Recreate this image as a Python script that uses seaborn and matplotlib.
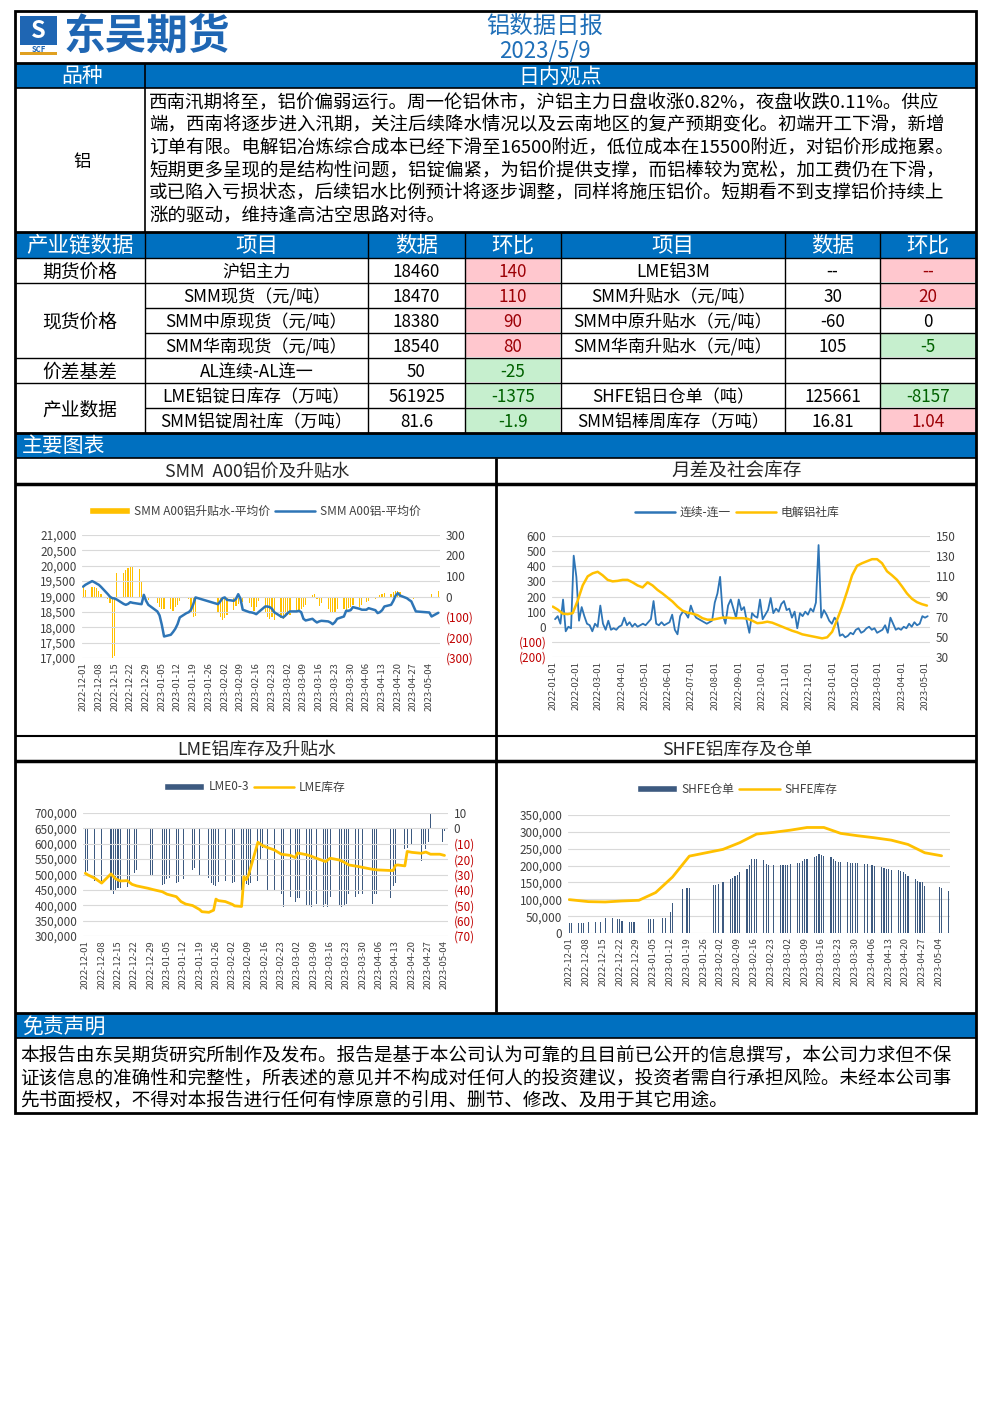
import numpy as np
import pandas as pd
import matplotlib
matplotlib.use('Agg')
import matplotlib.pyplot as plt
from matplotlib.patches import Rectangle, Patch
from matplotlib.lines import Line2D
import seaborn as sns

sns.set_theme(style='white')
plt.rcParams['font.family'] = ['Noto Sans CJK SC', 'DejaVu Sans']
plt.rcParams['axes.unicode_minus'] = False

# ---------------- text data ----------------
report_title = '铝数据日报'
report_date = '2023/5/9'
view_lines = [
    '西南汛期将至，铝价偏弱运行。周一伦铝休市，沪铝主力日盘收涨0.82%，夜盘收跌0.11%。供应',
    '端，西南将逐步进入汛期，关注后续降水情况以及云南地区的复产预期变化。初端开工下滑，新增',
    '订单有限。电解铝冶炼综合成本已经下滑至16500附近，低位成本在15500附近，对铝价形成拖累。',
    '短期更多呈现的是结构性问题，铝锭偏紧，为铝价提供支撑，而铝棒较为宽松，加工费仍在下滑，',
    '或已陷入亏损状态，后续铝水比例预计将逐步调整，同样将施压铝价。短期看不到支撑铝价持续上',
    '涨的驱动，维持逢高沽空思路对待。',
]
disclaimer_lines = [
    '本报告由东吴期货研究所制作及发布。报告是基于本公司认为可靠的且目前已公开的信息撰写，本公司力求但不保',
    '证该信息的准确性和完整性，所表述的意见并不构成对任何人的投资建议，投资者需自行承担风险。未经本公司事',
    '先书面授权，不得对本报告进行任何有悖原意的引用、删节、修改、及用于其它用途。',
]

table_header = ['产业链数据', '项目', '数据', '环比', '项目', '数据', '环比']
groups = [('期货价格', 0, 1), ('现货价格', 1, 4), ('价差基差', 4, 5), ('产业数据', 5, 7)]
left_items = ['沪铝主力', 'SMM现货（元/吨）', 'SMM中原现货（元/吨）', 'SMM华南现货（元/吨）',
              'AL连续-AL连一', 'LME铝锭日库存（万吨）', 'SMM铝锭周社库（万吨）']
left_values = ['18460', '18470', '18380', '18540', '50', '561925', '81.6']
left_change = ['140', '110', '90', '80', '-25', '-1375', '-1.9']
right_items = ['LME铝3M', 'SMM升贴水（元/吨）', 'SMM中原升贴水（元/吨）', 'SMM华南升贴水（元/吨）',
               '', 'SHFE铝日仓单（吨）', 'SMM铝棒周库存（万吨）']
right_values = ['--', '30', '-60', '105', '', '125661', '16.81']
right_change = ['--', '20', '0', '-5', '', '-8157', '1.04']

chart_titles = ['SMM  A00铝价及升贴水', '月差及社会库存', 'LME铝库存及升贴水', 'SHFE铝库存及仓单']

# ---------------- chart data ----------------
cn_holidays = ['2023-01-02', '2023-01-23', '2023-01-24', '2023-01-25', '2023-01-26', '2023-01-27',
               '2023-04-05', '2023-05-01', '2023-05-02', '2023-05-03']
cn_days = pd.bdate_range('2022-12-01', '2023-05-08')
cn_days = cn_days[~cn_days.isin(pd.to_datetime(cn_holidays))]

# SMM A00 average price (yuan/t), one per trading day
smm_price = [
    19320, 19380, 19500, 19465, 19420, 19380, 19310, 19075, 18990, 18945, 18935, 18900, 18760, 18730,
    18760, 18815, 18795, 18760, 18750, 19055, 18860, 18730,  # Dec
    18515, 18385, 18080, 17700, 17755, 17845, 17950, 18100, 18320, 18460, 18490, 18570, 18750, 18970,
    18750, 18840,  # Jan
    18945, 18970, 18890, 18860, 18925, 19075, 18925, 18570, 18490, 18480, 18460, 18425, 18490, 18675,
    18675, 18655, 18600, 18490, 18350, 18320,  # Feb
    18385, 18460, 18515, 18515, 18535, 18490, 18275, 18220, 18275, 18210, 18155, 18190, 18210, 18190,
    18155, 18100, 18165, 18275, 18350, 18535, 18535, 18555, 18655,  # Mar
    18600, 18570, 18570, 18620, 18555, 18460, 18490, 18555, 18675, 18730, 18860, 19030, 19110, 19030,
    18945, 18890, 18840, 18675, 18515,  # Apr
    18480, 18350, 18470,  # May
]
# SMM A00 premium/discount
smm_premium = [
    55, 30, 45, 45, 40, 25, 10, -10, -30, -300, -290, 115, 115, 130, 140, 150, 150, 135, 75, np.nan,
    -5, -15,
    -30, -50, -60, -60, -60, -70, -50, -40, -20, np.nan, -10, -80, -100, -95, -80, -100,
    -115, -105, -90, -65, -45, -35, -30, -25, -30, -50, -70, -50, -20, -80, -100, -110, -100, -115,
    -105, -110,
    -100, -90, -90, -80, -70, -60, -50, -40, 5, 12, -10, -45, -30, -60, -75, -80, -75, -60, -60, -65,
    -55, -50, -40,
    -50, -40, -25, -20, -10, -5, 5, 10, 15, 10, 20, 25, 25, 20, -5, -5, 0, -10, -5,
    -5, 10, 25,
]

# continuous minus first-month spread, 2022-01 .. 2023-05
spread = [50, 70, 20, 180, -30, 0, -10, 470, 330, 40, 130, 70, 20, 10, -30, 20, 0, 140, 20, -20,
          40, -20, -10, -20, 0, 10, 60, 10, 30, 0, 20, 0, 10, 20, 10, 30, 50, 170, 20, 10,
          30, 10, 20, 30, 80, -20, -50, 70, 100, 90, 60, 140, 90, 60, 50, 40, 30, 20, 30, 40,
          160, 220, 330, 80, 20, 140, 180, 120, 60, 180, 110, 130, 40, -40, 90, 70, 60, 180, 50, 80,
          110, 190, 90, 120, 100, 150, 170, 110, 120, 60, 100, -10, 90, 70, 100, 80, 120, 100, 160, 540,
          60, 110, 80, 40, 20, 60, 40, -60, -50, -70, -60, -40, -50, -20, -10, -40, -30, -10, 0, -20,
          -10, -40, -30, -20, 10, -40, 60, 20, -20, -10, -20, 0, -10, 20, 0, 30, 10, 20, 70, 60, 70]
spread_start, spread_end = '2022-01-04', '2023-05-05'
# electrolytic aluminium social inventory (10k t)
social_stock = [80, 77, 73, 72.5, 73.5, 86, 101, 110, 113, 114.5, 111, 106.5, 105, 105.5, 106.5, 106.5,
                104, 101, 99, 104, 101, 96.5, 93, 89, 85, 80, 76, 74, 73, 71.5, 68.5, 67, 67, 68, 69,
                69, 68.5, 68.5, 68.5, 68, 66, 63.5, 64, 65, 64, 62, 60, 58, 56, 54.5, 52.5, 51.5, 50.5,
                49.5, 48.5, 49.5, 55, 67, 80, 95, 111, 120.5, 123, 125, 127, 127, 123, 115, 111, 106.5,
                100, 93, 87.7, 84.4, 82.4, 81]
stock_start, stock_end = '2022-01-01', '2023-05-04'

# LME stock (t)
lme_stock_dates = ['2022-12-01', '2022-12-02', '2022-12-05', '2022-12-08', '2022-12-12', '2022-12-14',
                   '2022-12-16', '2022-12-19', '2022-12-21', '2022-12-23', '2022-12-28', '2022-12-30',
                   '2023-01-03', '2023-01-05', '2023-01-09', '2023-01-11', '2023-01-13', '2023-01-16',
                   '2023-01-19', '2023-01-20', '2023-01-23', '2023-01-25', '2023-01-26', '2023-01-27',
                   '2023-01-30', '2023-02-02', '2023-02-03', '2023-02-06', '2023-02-07', '2023-02-08',
                   '2023-02-09', '2023-02-13', '2023-02-15', '2023-02-17', '2023-02-20', '2023-02-23',
                   '2023-02-27', '2023-03-01', '2023-03-02', '2023-03-06', '2023-03-08', '2023-03-10',
                   '2023-03-14', '2023-03-16', '2023-03-20', '2023-03-22', '2023-03-24', '2023-03-28',
                   '2023-03-30', '2023-04-03', '2023-04-05', '2023-04-11', '2023-04-12', '2023-04-13',
                   '2023-04-14', '2023-04-17', '2023-04-18', '2023-04-20', '2023-04-24', '2023-04-26',
                   '2023-04-28', '2023-05-02', '2023-05-04']
lme_stock = [504000, 499000, 488000, 472000, 502000, 486000, 479000, 480000, 468000, 463000,
             455000, 451000, 444000, 436000, 428000, 412000, 404000, 399000, 386000, 379000,
             377000, 384000, 420000, 415000, 412000, 403000, 398000, 396000, 493000, 483000,
             499000, 605000, 594000, 588000, 580000, 566000, 562000, 555000, 570000, 564000,
             559000, 553000, 542000, 553000, 547000, 540000, 531000, 526000, 523000, 517000,
             515000, 513000, 513000, 530000, 531000, 528000, 575000, 572000, 569000, 573000,
             566000, 566000, 562000]
# LME 0-3 spread
lme_spread_dates = ['2022-12-01', '2022-12-02', '2022-12-05', '2022-12-08', '2022-12-12', '2022-12-13',
                    '2022-12-14', '2022-12-15', '2022-12-16', '2022-12-19', '2022-12-20', '2022-12-22',
                    '2022-12-23', '2022-12-29', '2022-12-30', '2023-01-03', '2023-01-04', '2023-01-05',
                    '2023-01-06', '2023-01-09', '2023-01-10', '2023-01-12', '2023-01-16', '2023-01-17',
                    '2023-01-19', '2023-01-23', '2023-01-24', '2023-01-25', '2023-01-26', '2023-01-27',
                    '2023-01-30', '2023-02-02', '2023-02-03', '2023-02-06', '2023-02-07', '2023-02-08',
                    '2023-02-09', '2023-02-10', '2023-02-13', '2023-02-14', '2023-02-15', '2023-02-17',
                    '2023-02-20', '2023-02-23', '2023-02-24', '2023-02-27', '2023-03-01', '2023-03-02',
                    '2023-03-03', '2023-03-06', '2023-03-07', '2023-03-08', '2023-03-10', '2023-03-13',
                    '2023-03-14', '2023-03-15', '2023-03-16', '2023-03-20', '2023-03-21', '2023-03-22',
                    '2023-03-23', '2023-03-24', '2023-03-27', '2023-03-28', '2023-03-30', '2023-04-03',
                    '2023-04-04', '2023-04-05', '2023-04-11', '2023-04-12', '2023-04-13', '2023-04-17',
                    '2023-04-18', '2023-04-20', '2023-04-24', '2023-04-25', '2023-04-26', '2023-04-27',
                    '2023-04-28', '2023-05-02', '2023-05-03', '2023-05-04']
lme_spread = [-29, -28, -34, -34.5, -41, -42.7, -40, -39, -39, -38, -34.4, -29, -27, -31, -30, -36.7,
              -36, -33, -32, -35.5, -35, -33, -27, -25.5, -30, -32, -35.5, -37, -37.8, -35, -34.4,
              -35.5, -35, -40, -38, -36, -37, -35.5, -34.4, -20, -13, -41, -40, -43, -51, -44.4, -47.8,
              -45, -45.5, -50, -50, -51, -49, -51, -49, -51, -44.4, -50, -51, -50.5, -49, -43, -44.4,
              -43, -43, -49, -43, -43, -45.5, -37.8, -35.5, -13.3, -13, -11, -21, -10, -13.3, -9, 10,
              0.4, -9, -2]

# SHFE warrants (t), one per trading day
shfe_warrants = [
    30000, 30000, 30000, 30000, 30000, np.nan, 32000, 32000, np.nan, 32000, np.nan, 44600, 44600,
    np.nan, 41600, 41000, 35000, 33000, 33000, 33000, np.nan, np.nan,
    40600, 40600, 40600, np.nan, 44600, 45500, np.nan, 62500, 89000, np.nan, 130000, np.nan, 133000,
    133000, 142000, 143000,
    145000, np.nan, 151700, 159600, 164600, 168500, 172500, 179500, 189400, 203000, 219000, 219000,
    219000, 216000, 204500, 203000, np.nan, 203000, 201000, 201000,
    201000, 203000, 205000, 208000, 208000, 214000, 219000, 219000, 224000, 229000, 235000, 230000,
    228000, 226000, 220000, 214000, 212000, 210000, 211000, 209000, 209000, 208000, 208000,
    205000, 205000, 201000, 199000, 196000, 193000, 190000, 190000, 188000, 186000, 184000, 181000,
    176000, 170000, 159600, 155700, 152700, 150700, 138800,
    135800, 133000, 125000,
]
# SHFE weekly stock (t)
shfe_stock_dates = ['2022-12-01', '2022-12-09', '2022-12-16', '2022-12-23', '2022-12-30', '2023-01-06',
                    '2023-01-13', '2023-01-20', '2023-02-03', '2023-02-10', '2023-02-17', '2023-02-24',
                    '2023-03-03', '2023-03-10', '2023-03-17', '2023-03-24', '2023-03-31', '2023-04-07',
                    '2023-04-14', '2023-04-21', '2023-04-28', '2023-05-05']
shfe_stock = [99000, 93000, 92000, 95000, 97000, 120000, 166000, 228000, 248000, 268000, 293500,
              298500, 305000, 313000, 313000, 295500, 288500, 282500, 275500, 262700, 238000, 229000]

# ---------------- page ----------------
W, H = 992, 1403
BLUE = '#0070c0'
YELLOW = '#ffc000'
LINE_BLUE = '#2e75b6'
NAVY = '#3d5a80'
GRID = '#d9d9d9'
TICK = '#404040'
NEG = '#c00000'
PINK, PINK_T = '#ffc7ce', '#9c0006'
GREEN, GREEN_T = '#c6efce', '#006100'

fig = plt.figure(figsize=(W / 100, H / 100), dpi=100)
page = fig.add_axes([0, 0, 1, 1])
page.set_xlim(0, W)
page.set_ylim(H, 0)
page.axis('off')


def frac(x0, y0, x1, y1):
    return [x0 / W, 1 - y1 / H, (x1 - x0) / W, (y1 - y0) / H]


def fill(x0, y0, x1, y1, color, z=1):
    page.add_patch(Rectangle((x0, y0), x1 - x0, y1 - y0, facecolor=color, edgecolor='none', zorder=z))


def hline(y, x0=15, x1=976, lw=1.0):
    page.plot([x0, x1], [y, y], color='black', lw=lw, solid_capstyle='butt', zorder=3)


def vline(x, y0, y1, lw=1.0):
    page.plot([x, x], [y0, y1], color='black', lw=lw, solid_capstyle='butt', zorder=3)


def put(x, y, s, size, color='black', ha='center', **kw):
    # CJK glyphs sit a little high with va='center'; nudge down
    page.text(x, y + 1.5, s, fontsize=size, color=color, ha=ha, va='center', zorder=4, **kw)


# header with logo
fill(20, 16, 57, 45, '#1f66b3')
put(38.5, 29, 'S', 17, 'white', weight='bold', style='italic')
put(38.5, 47.5, 'SCF', 5.5, '#1f66b3', weight='bold')
fill(20, 52, 57, 55, '#e0a020')
put(147, 35, '东吴期货', 30, '#1f66b3', weight='bold')
put(545, 25, report_title, 16.8, '#1f6fb8')
put(545, 50, report_date, 16, '#1f6fb8')

# daily view
fill(15, 63, 976, 88, BLUE)
put(82, 75, '品种', 15, 'white')
put(560, 75, '日内观点', 15, 'white')
put(82, 160, '铝', 12.5)
for i, line in enumerate(view_lines):
    put(149, 101 + i * 22.8, line, 13.3, ha='left')

# data table
cols = [15, 145, 368, 465, 561, 785, 880, 976]
rows = [258, 283, 308, 333, 358, 383, 408, 433]
centers = [(a + b) / 2 for a, b in zip(cols[:-1], cols[1:])]
fill(15, 232, 976, 258, BLUE)
for cx, lab in zip(centers, table_header):
    put(cx, 244, lab, 15.5, 'white')


def change_style(s):
    if s == '':
        return None, 'black'
    if s == '--':
        return PINK, PINK_T
    v = float(s)
    if v > 0:
        return PINK, PINK_T
    if v < 0:
        return GREEN, GREEN_T
    return None, 'black'


for r in range(7):
    y0, y1 = rows[r], rows[r + 1]
    yc = (y0 + y1) / 2
    for ci, items in ((0, (left_items, left_values, left_change)), (3, (right_items, right_values, right_change))):
        name, val, chg = items[0][r], items[1][r], items[2][r]
        put(centers[ci + 1], yc, name, 12.3)
        put(centers[ci + 2], yc, val, 12.3)
        bg, fg = change_style(chg)
        if bg:
            fill(cols[ci + 3] + 1, y0 + 1, cols[ci + 4] - 1, y1 - 1, bg)
        put(centers[ci + 3], yc, chg, 12.3, fg)

for name, r0, r1 in groups:
    put(centers[0], (rows[r0] + rows[r1]) / 2, name, 13.5)

hline(258)
for y in [283, 358, 383, 433]:
    hline(y)
for y in [308, 333, 408]:
    hline(y, 145)
for x in cols[1:-1]:
    vline(x, 232, 433)

# section bands
fill(15, 433, 976, 458, BLUE)
put(22, 445, '主要图表', 15, 'white', ha='left')
fill(15, 1013, 976, 1038, BLUE)
put(22, 1025, '免责声明', 15, 'white', ha='left')
for i, line in enumerate(disclaimer_lines):
    put(20, 1054 + i * 22.5, line, 13.4, ha='left')

put(257, 470, chart_titles[0], 12.8, '#262626')
put(737, 470, chart_titles[1], 13.4, '#262626')
put(257, 748, chart_titles[2], 12.8, '#262626')
put(737, 748, chart_titles[3], 12.8, '#262626')

# frame lines
hline(63, lw=2)
hline(88, lw=1.2)
vline(145, 63, 232, lw=1.2)
hline(232, lw=2)
hline(433, lw=2)
hline(458, lw=1.2)
hline(484, lw=2.5)
hline(736, lw=1.5)
hline(761, lw=2.5)
hline(1012.5, lw=2)
hline(1038, lw=1.2)
vline(496, 458, 1012, lw=2)
page.add_patch(Rectangle((15, 11), 961, 1102, facecolor='none', edgecolor='black', lw=2, zorder=3))


# ---------------- charts ----------------
def base(ax):
    sns.despine(ax=ax, left=True, bottom=True, right=True, top=True)
    ax.tick_params(axis='both', length=0, labelsize=8.5, colors=TICK, pad=4)
    ax.set_xlabel('')
    ax.set_ylabel('')


def comma_ticks(ax, ticks):
    ax.set_yticks(ticks, labels=[f'{t:,.0f}' for t in ticks])


def paren_ticks(ax, ticks):
    ax.set_yticks(ticks, labels=[f'({abs(t):,.0f})' if t < 0 else f'{t:,.0f}' for t in ticks])
    for lab, t in zip(ax.get_yticklabels(), ticks):
        lab.set_color(NEG if t < 0 else TICK)


def date_axis(ax, ticks, lo, hi):
    ax.set_xlim(pd.Timestamp(lo), pd.Timestamp(hi))
    ax.set_xticks(ticks, labels=[t.strftime('%Y-%m-%d') for t in ticks])
    ax.tick_params(axis='x', labelrotation=90, labelsize=6.8, colors=TICK, pad=3)


def legend(handles, labels, cx, cy):
    fig.legend(handles, labels, loc='center', bbox_to_anchor=(cx / W, 1 - cy / H), ncol=2,
               frameon=False, fontsize=8.5, handlelength=3.4, handleheight=0.55,
               columnspacing=0.4, handletextpad=0.4, labelcolor=TICK)


week_ticks = pd.date_range('2022-12-01', '2023-05-04', freq='7D')
month_ticks = pd.date_range('2022-01-01', '2023-05-01', freq='MS')

# chart 1: SMM A00 price and premium
ax1 = fig.add_axes(frac(82, 535, 440, 658))
sns.lineplot(x=cn_days, y=smm_price, ax=ax1, color=LINE_BLUE, linewidth=1.8)
ax1b = ax1.twinx()
ax1b.bar(cn_days, smm_premium, width=0.55, color=YELLOW, linewidth=0)
ax1.set_zorder(ax1b.get_zorder() + 1)
ax1.patch.set_visible(False)
for a in (ax1, ax1b):
    base(a)
ax1.set_ylim(17000, 21000)
comma_ticks(ax1, list(range(17000, 21001, 500)))
ax1b.set_ylim(-300, 300)
paren_ticks(ax1b, list(range(-300, 301, 100)))
ax1.grid(axis='y', color=GRID, linewidth=0.8)
date_axis(ax1, week_ticks, '2022-11-30 12:00', '2023-05-08 18:00')
legend([Patch(facecolor=YELLOW), Line2D([], [], color=LINE_BLUE, lw=1.8)],
       ['SMM A00铝升贴水-平均价', 'SMM A00铝-平均价'], 255, 511)

# chart 2: spread and social inventory
ax2 = fig.add_axes(frac(552, 536, 930, 657))
spread_dates = pd.date_range(spread_start, spread_end, periods=len(spread))
stock_dates = pd.date_range(stock_start, stock_end, periods=len(social_stock))
sns.lineplot(x=spread_dates, y=spread, ax=ax2, color=LINE_BLUE, linewidth=1.3)
ax2b = ax2.twinx()
sns.lineplot(x=stock_dates, y=social_stock, ax=ax2b, color=YELLOW, linewidth=1.8)
for a in (ax2, ax2b):
    base(a)
ax2.set_ylim(-200, 600)
paren_ticks(ax2, list(range(-200, 601, 100)))
ax2b.set_ylim(30, 150)
comma_ticks(ax2b, list(range(30, 151, 20)))
ax2.grid(axis='y', color=GRID, linewidth=0.8)
date_axis(ax2, month_ticks, '2021-12-31', '2023-05-08')
legend([Line2D([], [], color=LINE_BLUE, lw=1.8), Line2D([], [], color=YELLOW, lw=1.8)],
       ['连续-连一', '电解铝社库'], 737, 512)

# chart 3: LME stock and 0-3 spread
ax3 = fig.add_axes(frac(83, 813, 448, 936))
sns.lineplot(x=pd.to_datetime(lme_stock_dates), y=lme_stock, ax=ax3, color=YELLOW, linewidth=2)
ax3b = ax3.twinx()
ax3b.bar(pd.to_datetime(lme_spread_dates), lme_spread, width=0.45, color=NAVY, linewidth=0)
ax3.set_zorder(ax3b.get_zorder() + 1)
ax3.patch.set_visible(False)
for a in (ax3, ax3b):
    base(a)
ax3.set_ylim(300000, 700000)
comma_ticks(ax3, list(range(300000, 700001, 50000)))
ax3b.set_ylim(-70, 10)
paren_ticks(ax3b, list(range(-70, 11, 10)))
ax3.grid(axis='y', color=GRID, linewidth=0.8)
date_axis(ax3, week_ticks, '2022-11-30', '2023-05-05 12:00')
legend([Patch(facecolor=NAVY), Line2D([], [], color=YELLOW, lw=1.8)], ['LME0-3', 'LME库存'], 255, 787)

# chart 4: SHFE stock and warrants
ax4 = fig.add_axes(frac(568, 815, 950, 933))
ax4.bar(cn_days, shfe_warrants, width=0.5, color=NAVY, linewidth=0)
sns.lineplot(x=pd.to_datetime(shfe_stock_dates), y=shfe_stock, ax=ax4, color=YELLOW, linewidth=2)
base(ax4)
ax4.set_ylim(0, 350000)
comma_ticks(ax4, list(range(0, 350001, 50000)))
ax4.grid(axis='y', color=GRID, linewidth=0.8)
ax4.set_axisbelow(True)
date_axis(ax4, week_ticks, '2022-11-30 12:00', '2023-05-08 12:00')
legend([Patch(facecolor=NAVY), Line2D([], [], color=YELLOW, lw=1.8)], ['SHFE仓单', 'SHFE库存'], 737, 789)

fig.savefig('out.png', dpi=100)
